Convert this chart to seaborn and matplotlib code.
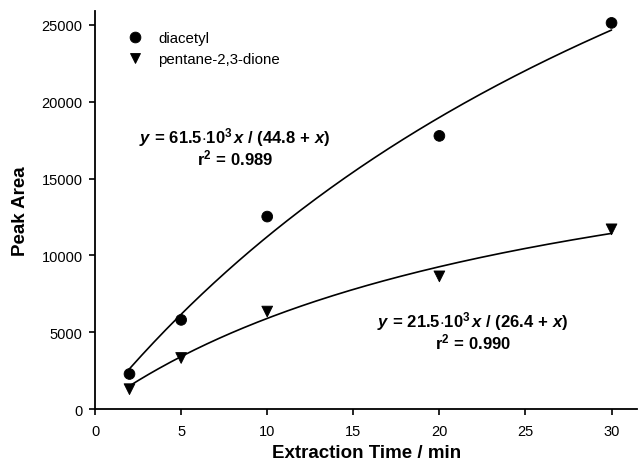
import numpy as np
import pandas as pd
import matplotlib
matplotlib.use("Agg")
import matplotlib.pyplot as plt
import seaborn as sns

# measured points
time_min = [2, 5, 10, 20, 30]
diacetyl = [2290, 5810, 12530, 17780, 25130]
pentanedione = [1300, 3330, 6350, 8640, 11700]

# fit parameters shown on the chart: y = a*x / (b + x)
fit_diacetyl = (61.5e3, 44.8)
fit_pentane = (21.5e3, 26.4)

sns.set_theme(style="ticks")
plt.rcParams["font.family"] = ["Liberation Sans", "DejaVu Sans"]
plt.rcParams["text.color"] = "black"
plt.rcParams["axes.labelcolor"] = "black"
plt.rcParams["xtick.color"] = "black"
plt.rcParams["ytick.color"] = "black"
plt.rcParams["mathtext.fontset"] = "custom"
plt.rcParams["mathtext.rm"] = "Liberation Sans"
plt.rcParams["mathtext.bf"] = "Liberation Sans:bold"
plt.rcParams["mathtext.it"] = "Liberation Sans:italic"
plt.rcParams["mathtext.bfit"] = "Liberation Sans:bold:italic"

points = pd.DataFrame({
    "time": time_min * 2,
    "area": diacetyl + pentanedione,
    "compound": ["diacetyl"] * 5 + ["pentane-2,3-dione"] * 5,
})

xs = np.linspace(min(time_min), max(time_min), 200)
curves = pd.DataFrame({
    "time": np.concatenate([xs, xs]),
    "area": np.concatenate([fit_diacetyl[0] * xs / (fit_diacetyl[1] + xs),
                            fit_pentane[0] * xs / (fit_pentane[1] + xs)]),
    "compound": ["diacetyl"] * len(xs) + ["pentane-2,3-dione"] * len(xs),
})

fig = plt.figure(figsize=(6.38, 4.64), dpi=100)
ax = fig.add_axes([0.149, 0.116, 0.85, 0.858])

sns.lineplot(data=curves, x="time", y="area", units="compound", estimator=None,
             color="black", lw=1.2, legend=False, ax=ax)
sns.scatterplot(data=points, x="time", y="area", style="compound",
                markers={"diacetyl": "o", "pentane-2,3-dione": "v"},
                color="black", s=60, edgecolor="black", ax=ax)

ax.set_xlim(0, 31.5)
ax.set_ylim(0, 25900)
ax.set_xticks(range(0, 31, 5))
ax.set_yticks(range(0, 25001, 5000))
ax.tick_params(direction="out", length=4, width=1.2, labelsize=10.5, color="black")
ax.tick_params(axis="x", pad=7)
ax.tick_params(axis="y", pad=5)
for s in ["left", "bottom"]:
    ax.spines[s].set_linewidth(1.3)
    ax.spines[s].set_color("black")
sns.despine(ax=ax)

ax.set_xlabel("Extraction Time / min", fontsize=13.5, fontweight="bold", labelpad=4)
ax.set_ylabel("Peak Area", fontsize=13.5, fontweight="bold", labelpad=9)

leg = ax.legend(loc="upper left", bbox_to_anchor=(0.022, 0.983), frameon=False,
                fontsize=10.8, handletextpad=0.5, labelspacing=0.45, title=None)

eq1 = (r"$\mathbfit{y}\mathbf{\,=\,61.5{\cdot}10^3}\,\mathbfit{x}\mathbf{\ /\ (44.8\,+\,}\mathbfit{x}\mathbf{)}$"
       "\n" r"$\mathbf{r^2\,=\,0.989}$")
eq2 = (r"$\mathbfit{y}\mathbf{\,=\,21.5{\cdot}10^3}\,\mathbfit{x}\mathbf{\ /\ (26.4\,+\,}\mathbfit{x}\mathbf{)}$"
       "\n" r"$\mathbf{r^2\,=\,0.990}$")
ax.text(0.258, 0.66, eq1, transform=ax.transAxes, ha="center", va="center",
        multialignment="center", linespacing=1.0, fontsize=12)
ax.text(0.697, 0.198, eq2, transform=ax.transAxes, ha="center", va="center",
        multialignment="center", linespacing=1.0, fontsize=12)

fig.savefig("out.png", dpi=100)
